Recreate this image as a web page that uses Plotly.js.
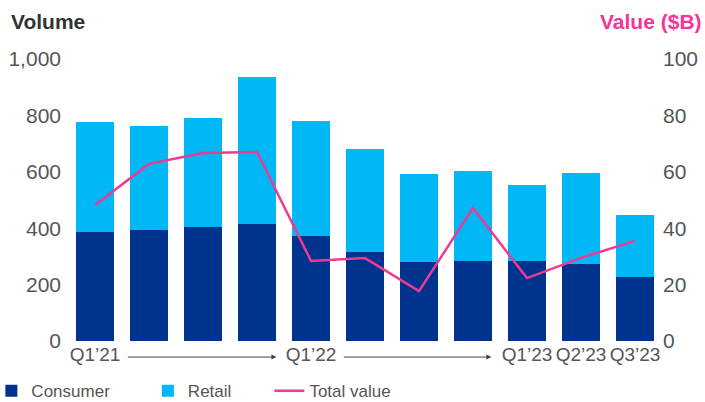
<!DOCTYPE html>
<html>
<head>
<meta charset="utf-8">
<script src="https://cdn.plot.ly/plotly-3.0.1.min.js"></script>
<style>html,body{margin:0;padding:0;background:#fff;}#chart{width:705px;height:402px;}</style>
</head>
<body>
<div id="chart"></div>
<script>
const quarters = ["Q1’21","Q2’21","Q3’21","Q4’21","Q1’22","Q2’22","Q3’22","Q4’22","Q1’23","Q2’23","Q3’23"];
const consumer = [387, 394, 404, 415, 372, 316, 280, 284, 284, 273, 227];
const totalVolume = [777, 762, 791, 936, 780, 681, 592, 603, 553, 596, 447];
const retail = totalVolume.map((t, i) => t - consumer[i]);
const totalValue = [48.2, 62.8, 66.7, 67.0, 28.4, 29.4, 17.7, 47.2, 22.3, 29.5, 35.5];
const shownTicks = ["Q1’21","Q1’22","Q1’23","Q2’23","Q3’23"];
const legendNames = ["Consumer","Retail","Total value"];

const FONT = "Liberation Sans, Arial, sans-serif";
const NB = "\u00A0";

const traces = [
  {type:"bar", x:quarters, y:consumer, name:legendNames[0] + NB.repeat(7),
   marker:{color:"#00338D"}, yaxis:"y"},
  {type:"bar", x:quarters, y:retail, name:legendNames[1] + NB.repeat(7),
   marker:{color:"#00B8F5"}, yaxis:"y"},
  {type:"scatter", mode:"lines", x:quarters, y:totalValue, name:legendNames[2],
   line:{color:"#EE3A96", width:2.5}, yaxis:"y2"}
];

const layout = {
  width:705, height:402,
  margin:{l:68, r:43, t:59, b:61, autoexpand:false},
  paper_bgcolor:"#fff", plot_bgcolor:"#fff",
  barmode:"stack", bargap:0.278,
  font:{family:FONT, color:"#555", size:19},
  showlegend:true,
  legend:{orientation:"h", x:-0.129, xanchor:"left", y:-0.178, yanchor:"middle",
          font:{family:FONT, size:17, color:"#555"}, traceorder:"normal"},
  xaxis:{type:"category", tickvals:shownTicks, ticktext:shownTicks,
         showgrid:false, zeroline:false, showline:false, ticks:"",
         tickfont:{size:19, color:"#555"}, fixedrange:true},
  yaxis:{range:[0,1000], tickvals:[0,200,400,600,800,1000], tickformat:",",
         showgrid:false, zeroline:false, showline:false, ticks:"",
         tickfont:{size:21, color:"#555"}, ticklabelstandoff:6},
  yaxis2:{range:[0,100], tickvals:[0,20,40,60,80,100], overlaying:"y", side:"right",
          showgrid:false, zeroline:false, showline:false, ticks:"",
          tickfont:{size:21, color:"#555"}},
  annotations:[
    {xref:"paper", yref:"paper", x:-0.1, y:1.133, xanchor:"left", yanchor:"middle",
     text:"<b>Volume</b>", showarrow:false, font:{family:FONT, size:21, color:"#333"}},
    {xref:"paper", yref:"paper", x:1.071, y:1.133, xanchor:"right", yanchor:"middle",
     text:"<b>Value ($B)</b>", showarrow:false, font:{family:FONT, size:21, color:"#F5339A"}},
    {xref:"x", yref:"paper", x:3.36, y:-0.057, axref:"x", ayref:"pixel", ax:0.58, ay:0,
     text:"", showarrow:true, arrowhead:2, arrowsize:1, arrowwidth:1, arrowcolor:"#444", standoff:0},
    {xref:"x", yref:"paper", x:7.34, y:-0.057, axref:"x", ayref:"pixel", ax:4.58, ay:0,
     text:"", showarrow:true, arrowhead:2, arrowsize:1, arrowwidth:1, arrowcolor:"#444", standoff:0}
  ]
};

Plotly.newPlot("chart", traces, layout, {displayModeBar:false, staticPlot:true});
</script>
</body>
</html>
